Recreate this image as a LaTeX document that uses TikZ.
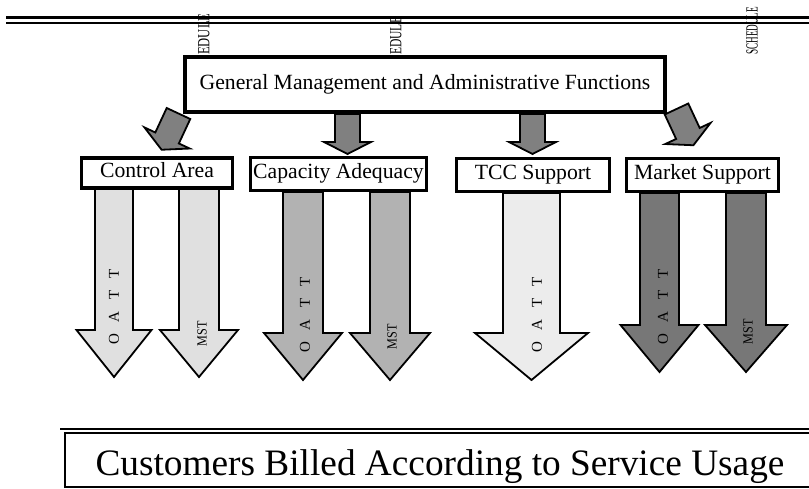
\documentclass[tikz,border=0pt]{standalone}
\usepackage{fontspec}
\setmainfont{Liberation Serif}
\usepackage{xcolor}
\usepackage{tikz}
\definecolor{palegray}{RGB}{224,224,224}
\definecolor{midgray}{RGB}{178,178,178}
\definecolor{faintgray}{RGB}{236,236,236}
\definecolor{deepgray}{RGB}{119,119,119}
\definecolor{pointergray}{RGB}{128,128,128}
% block arrow pointing down from its top centre: [opts]{shaft half width}{head half width}{head start}{length}
\newcommand{\blockarrow}[5][]{%
  \draw[#1] (-#2,0) -- (-#2,#4) -- (-#3,#4) -- (0,#5) -- (#3,#4) -- (#2,#4) -- (#2,0) -- cycle;}

\begin{document}
\begin{tikzpicture}[x=1pt, y=-1pt,
            box/.style = {draw=black, line width=3.5pt, fill=white, inner sep=0pt, text height=14pt, text depth=4pt, font=\fontsize{21.7}{21.7}\selectfont},
            flow/.style = {draw=black, line width=1.8pt, line join=miter},
            pointer/.style = {flow, fill=pointergray},
            vtext/.style = {rotate=90, inner sep=0pt, font=\fontsize{15}{15}\selectfont},
            mst/.style = {rotate=90, inner sep=0pt, font=\fontsize{14}{14}\selectfont},
            stamp/.style = {rotate=90, anchor=west, inner sep=0pt, font=\fontsize{17}{17}\selectfont}]
        \useasboundingbox (0,0) rectangle (809,489);

        \draw[line width=3pt] (6,18) -- (809,18);
        \draw[line width=2pt] (6,23) -- (809,23);

        \node[stamp] (s1) at (204,55) {\scalebox{0.74}[1]{EDULE}};
        \node[stamp] (s2) at (396,55) {\scalebox{0.68}[1]{EDULE}};
        \node[stamp] (s3) at (752,55) {\scalebox{0.54}[1]{SCHEDULE}};

        % pointers out of the management box
        \blockarrow[pointer, shift={(178.5,113.5)}, rotate=-25]{13}{25}{27}{40}
        \blockarrow[pointer, shift={(347.5,114)}]{12.5}{23.5}{28}{40}
        \blockarrow[pointer, shift={(532.5,114)}]{12.5}{23.5}{28}{40}
        \blockarrow[pointer, shift={(676.5,109)}, rotate=25]{13}{25}{27}{40}

        \node[box, minimum width=480pt, minimum height=55pt] (gm) at (425,84.5) {General Management and Administrative Functions};

        % service arrows
        \blockarrow[flow, fill=palegray, shift={(114,188)}]{19}{37.5}{142}{189}
        \blockarrow[flow, fill=palegray, shift={(199,188)}]{20}{39}{142}{189}
        \blockarrow[flow, fill=midgray, shift={(303,192)}]{20}{39}{141}{188}
        \blockarrow[flow, fill=midgray, shift={(390,192)}]{20}{40}{141}{188}
        \blockarrow[flow, fill=faintgray, shift={(531.5,193)}]{28.5}{56.5}{140}{187}
        \blockarrow[flow, fill=deepgray, shift={(659.5,193)}]{19.5}{39}{132}{179}
        \blockarrow[flow, fill=deepgray, shift={(746,193)}]{20}{41}{132}{179}

        \node[box, minimum width=151pt, minimum height=30pt] (ctrl) at (157,173) {Control Area};
        \node[box, minimum width=176pt, minimum height=33pt] (cap) at (338.5,174) {Capacity Adequacy};
        \node[box, minimum width=153pt, minimum height=33pt] (tcc) at (533,175) {TCC Support};
        \node[box, minimum width=152pt, minimum height=33pt] (mkt) at (702.5,175) {Market Support};

        \node[vtext] (ctrl-oatt) at (114,307) {O\hspace{12pt}A\hspace{12pt}T\hspace{12pt}T};
        \node[mst] (ctrl-mst) at (202,334) {\scalebox{0.87}[1]{MST}};
        \node[vtext] (cap-oatt) at (305,315) {O\hspace{12pt}A\hspace{12pt}T\hspace{12pt}T};
        \node[mst] (cap-mst) at (392,337) {\scalebox{0.87}[1]{MST}};
        \node[vtext] (tcc-oatt) at (537,315) {O\hspace{12pt}A\hspace{12pt}T\hspace{12pt}T};
        \node[vtext] (mkt-oatt) at (663,307) {O\hspace{12pt}A\hspace{12pt}T\hspace{12pt}T};
        \node[mst] (mkt-mst) at (748,332) {\scalebox{0.87}[1]{MST}};

        % billing frame
        \draw[line width=2.7pt] (60,429) -- (809,429);
        \draw[line width=1.7pt] (809,433) -- (65,433) -- (65,487) -- (809,487);
        \node[anchor=base, inner sep=0pt, font=\fontsize{37.3}{37.3}\selectfont] (bill) at (440,475) {Customers Billed According to Service Usage};
        \end{tikzpicture}
\end{document}
